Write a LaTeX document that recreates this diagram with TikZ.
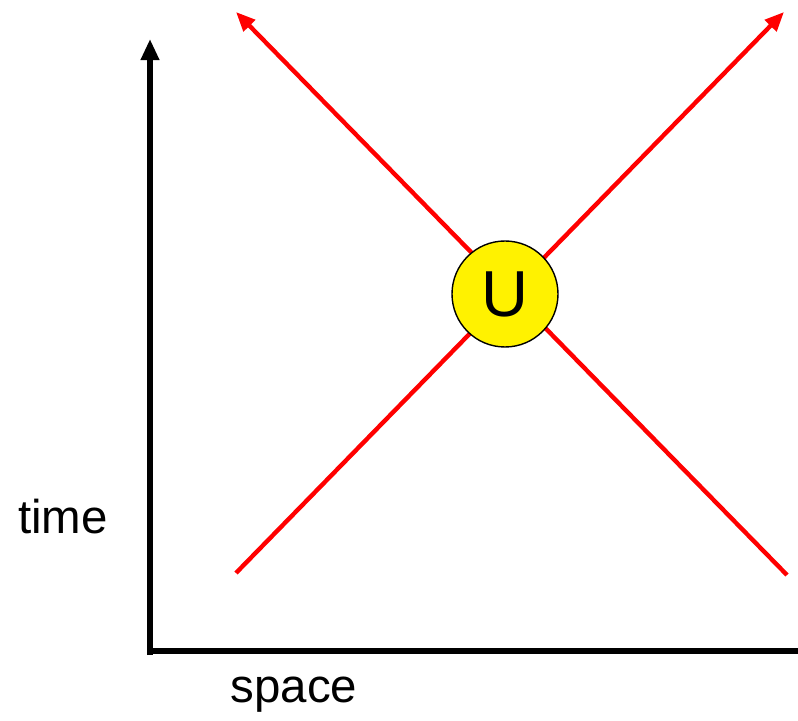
\documentclass[tikz,border=0pt]{standalone}
\usepackage{fontspec}
\setmainfont{Liberation Sans}
\usetikzlibrary{arrows.meta}
\tikzset{
	axis/.style = {line width = 3pt, -{Triangle[length = 12pt, width = 10pt]}},
	ray/.style = {red, line width = 2.5pt, -{Triangle[length = 11pt, width = 9pt]}},
	particle/.style = {circle, draw, thick, fill = yellow, minimum size = 2.12cm, inner sep = 0pt, font = \fontsize{37}{40}\selectfont},
	axislabel/.style = {font = \fontsize{27}{30}\selectfont}
}
\begin{document}
\begin{tikzpicture}
	\useasboundingbox (0,0) rectangle (15.96,14.4);
	% axes
	\coordinate (origin) at (2.94,1.38);
	\coordinate (ttop) at (3.0,13.62);
	\coordinate (xend) at (16.42,1.38);
	\draw [axis] (3.0,1.3) -- (ttop);
	\draw [axis] (origin) -- (xend);
	\node [axislabel] (time) at (1.26,4.06) {time};
	\node [axislabel] (space) at (5.88,0.5) {space};
	% rays through the event
	\coordinate (a1) at (4.72,2.94);
	\coordinate (b1) at (15.68,14.16);
	\coordinate (a2) at (15.74,2.90);
	\coordinate (b2) at (4.72,14.16);
	\draw [ray] (a1) -- (b1);
	\draw [ray] (a2) -- (b2);
	\node [particle] (U) at (10.1,8.52) {U};
\end{tikzpicture}
\end{document}
